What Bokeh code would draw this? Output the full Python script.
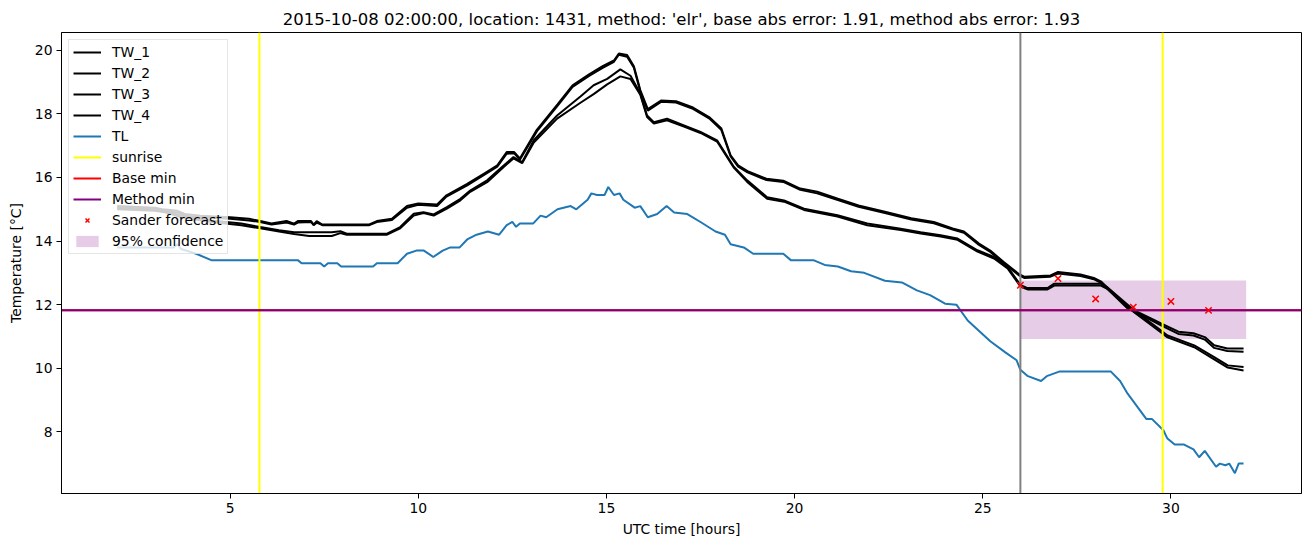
from bokeh.plotting import figure
from bokeh.models import Range1d, FixedTicker, Legend, LegendItem
from bokeh.embed import file_html
from bokeh.resources import INLINE

# ---------------- data ----------------
title_text = "2015-10-08 02:00:00, location: 1431, method: 'elr', base abs error: 1.91, method abs error: 1.93"

tw1_hours = [2.0, 3.0, 3.2, 3.6, 3.8, 4.2, 5.0, 5.5, 5.8, 6.1, 6.5, 6.7, 6.8, 7.15, 7.22, 7.3, 7.45, 8.7, 8.9, 9.3, 9.7, 10.0, 10.5, 10.75, 11.3, 11.75, 12.1, 12.35, 12.55, 12.7, 13.15, 13.7, 14.1, 14.55, 14.9, 15.2, 15.33, 15.55, 15.73, 15.9, 16.1, 16.45, 16.85, 17.3, 17.75, 18.05, 18.3, 18.5, 18.75, 19.25, 19.7, 20.15, 20.6, 21.15, 21.7, 22.4, 23.1, 23.7, 24.2, 24.5, 24.9, 25.2, 25.55, 25.95, 26.1, 26.8, 27.0, 27.6, 27.95, 28.15, 28.85, 29.55, 29.75, 30.2, 30.6, 30.9, 31.15, 31.5, 31.93]
tw1_temp = [15.1, 15.05, 15.0, 14.95, 14.85, 14.8, 14.75, 14.7, 14.63, 14.55, 14.63, 14.55, 14.63, 14.63, 14.52, 14.63, 14.52, 14.52, 14.63, 14.7, 15.1, 15.18, 15.15, 15.44, 15.8, 16.12, 16.38, 16.8, 16.8, 16.6, 17.5, 18.3, 18.9, 19.25, 19.5, 19.68, 19.9, 19.85, 19.5, 18.75, 18.15, 18.42, 18.4, 18.2, 17.88, 17.55, 16.7, 16.38, 16.2, 15.96, 15.9, 15.65, 15.55, 15.33, 15.12, 14.92, 14.72, 14.6, 14.4, 14.3, 13.92, 13.7, 13.35, 12.97, 12.88, 12.92, 13.03, 12.95, 12.84, 12.72, 11.92, 11.52, 11.4, 11.15, 11.1, 10.98, 10.72, 10.62, 10.62]

tw2_hours = [2.0, 3.0, 3.2, 3.6, 3.8, 4.2, 5.0, 5.5, 5.8, 6.1, 6.5, 6.7, 6.8, 7.15, 7.22, 7.3, 7.45, 8.7, 8.9, 9.3, 9.7, 10.0, 10.5, 10.75, 11.3, 11.75, 12.1, 12.35, 12.55, 12.7, 13.15, 13.7, 14.1, 14.55, 14.9, 15.2, 15.33, 15.55, 15.73, 15.9, 16.1, 16.45, 16.85, 17.3, 17.75, 18.05, 18.3, 18.5, 18.75, 19.25, 19.7, 20.15, 20.6, 21.15, 21.7, 22.4, 23.1, 23.7, 24.2, 24.5, 24.9, 25.2, 25.55, 25.95, 26.1, 26.8, 27.0, 27.6, 27.95, 28.15, 28.85, 29.55, 29.75, 30.2, 30.6, 30.9, 31.15, 31.5, 31.93]
tw2_temp = [15.05, 15.0, 14.95, 14.9, 14.8, 14.75, 14.7, 14.65, 14.6, 14.52, 14.58, 14.52, 14.58, 14.6, 14.5, 14.58, 14.5, 14.5, 14.6, 14.66, 15.05, 15.14, 15.1, 15.4, 15.75, 16.08, 16.34, 16.75, 16.76, 16.56, 17.45, 18.25, 18.85, 19.2, 19.45, 19.64, 19.86, 19.8, 19.45, 18.7, 18.1, 18.38, 18.36, 18.16, 17.84, 17.5, 16.66, 16.34, 16.16, 15.92, 15.86, 15.61, 15.5, 15.29, 15.08, 14.88, 14.68, 14.56, 14.36, 14.26, 13.88, 13.66, 13.31, 12.93, 12.84, 12.88, 12.98, 12.9, 12.8, 12.68, 11.88, 11.47, 11.34, 11.08, 11.03, 10.9, 10.64, 10.54, 10.52]

tw3_hours = [2.0, 3.0, 3.3, 3.7, 4.5, 5.3, 5.8, 6.3, 6.7, 7.1, 7.7, 7.93, 8.1, 9.17, 9.52, 9.88, 10.14, 10.41, 10.76, 11.12, 11.38, 11.83, 12.27, 12.53, 12.76, 13.07, 13.69, 14.31, 14.66, 15.02, 15.37, 15.64, 15.9, 16.08, 16.26, 16.61, 17.06, 17.5, 17.94, 18.39, 18.74, 19.27, 19.72, 20.25, 21.14, 21.93, 22.82, 23.35, 23.88, 24.33, 24.86, 25.3, 25.66, 26.01, 26.19, 26.72, 26.9, 28.14, 28.31, 29.02, 29.73, 29.91, 30.62, 31.15, 31.51, 31.93]
tw3_temp = [15.05, 15.0, 14.95, 14.8, 14.65, 14.55, 14.44, 14.34, 14.28, 14.28, 14.28, 14.31, 14.23, 14.23, 14.44, 14.86, 14.91, 14.84, 15.07, 15.33, 15.59, 15.91, 16.38, 16.64, 16.48, 17.17, 17.95, 18.55, 18.9, 19.1, 19.4, 19.2, 18.64, 17.95, 17.74, 17.85, 17.64, 17.43, 17.17, 16.33, 15.91, 15.38, 15.28, 15.02, 14.81, 14.55, 14.39, 14.28, 14.18, 14.08, 13.71, 13.5, 13.18, 12.61, 12.52, 12.52, 12.66, 12.66, 12.55, 11.82, 11.19, 11.03, 10.72, 10.35, 10.09, 10.04]

tw4_hours = [2.0, 3.0, 3.3, 3.7, 4.5, 5.3, 5.8, 6.3, 6.7, 7.1, 7.7, 7.93, 8.1, 9.17, 9.52, 9.88, 10.14, 10.41, 10.76, 11.12, 11.38, 11.83, 12.27, 12.53, 12.76, 13.07, 13.69, 14.31, 14.66, 15.02, 15.37, 15.64, 15.9, 16.08, 16.26, 16.61, 17.06, 17.5, 17.94, 18.39, 18.74, 19.27, 19.72, 20.25, 21.14, 21.93, 22.82, 23.35, 23.88, 24.33, 24.86, 25.3, 25.66, 26.01, 26.19, 26.72, 26.9, 28.14, 28.31, 29.02, 29.73, 29.91, 30.62, 31.15, 31.51, 31.93]
tw4_temp = [15.0, 14.95, 14.9, 14.75, 14.6, 14.5, 14.4, 14.3, 14.22, 14.16, 14.16, 14.25, 14.2, 14.2, 14.4, 14.8, 14.88, 14.8, 15.02, 15.28, 15.55, 15.85, 16.33, 16.6, 16.45, 17.1, 17.85, 18.35, 18.62, 18.93, 19.18, 19.1, 18.6, 17.9, 17.7, 17.8, 17.6, 17.4, 17.13, 16.3, 15.86, 15.33, 15.24, 14.98, 14.77, 14.5, 14.35, 14.24, 14.14, 14.04, 13.67, 13.45, 13.14, 12.56, 12.48, 12.48, 12.6, 12.6, 12.5, 11.76, 11.13, 10.97, 10.66, 10.28, 10.02, 9.93]

tl_hours = [2.0, 3.0, 3.5, 3.6, 3.7, 4.1, 4.5, 6.8, 6.9, 7.4, 7.5, 7.6, 7.85, 7.95, 8.8, 8.9, 9.45, 9.7, 9.95, 10.15, 10.4, 10.65, 10.85, 11.1, 11.3, 11.55, 11.85, 12.15, 12.35, 12.5, 12.6, 12.7, 13.05, 13.25, 13.4, 13.7, 14.05, 14.2, 14.5, 14.6, 14.75, 14.95, 15.05, 15.2, 15.35, 15.45, 15.75, 15.9, 16.1, 16.35, 16.6, 16.8, 17.15, 17.5, 17.9, 18.15, 18.3, 18.65, 18.9, 19.7, 19.9, 20.5, 20.8, 21.15, 21.5, 21.85, 22.4, 22.85, 23.25, 23.6, 24.0, 24.3, 24.6, 25.2, 25.6, 25.9, 26.0, 26.2, 26.55, 26.7, 27.05, 28.4, 28.65, 28.85, 29.1, 29.35, 29.5, 29.8, 29.9, 30.1, 30.35, 30.6, 30.75, 30.9, 31.2, 31.3, 31.45, 31.55, 31.7, 31.8, 31.93]
tl_temp = [13.8, 13.8, 13.8, 13.9, 13.75, 13.6, 13.4, 13.4, 13.3, 13.3, 13.2, 13.3, 13.3, 13.2, 13.2, 13.3, 13.3, 13.6, 13.7, 13.7, 13.5, 13.7, 13.8, 13.8, 14.05, 14.2, 14.3, 14.2, 14.5, 14.6, 14.45, 14.55, 14.55, 14.8, 14.75, 15.0, 15.1, 15.0, 15.3, 15.5, 15.45, 15.45, 15.7, 15.45, 15.5, 15.3, 15.05, 15.1, 14.75, 14.85, 15.1, 14.9, 14.85, 14.6, 14.3, 14.2, 13.9, 13.8, 13.6, 13.6, 13.4, 13.4, 13.25, 13.2, 13.05, 13.0, 12.75, 12.7, 12.45, 12.3, 12.03, 12.0, 11.5, 10.85, 10.5, 10.25, 9.95, 9.75, 9.6, 9.75, 9.9, 9.9, 9.6, 9.2, 8.8, 8.4, 8.4, 8.05, 7.8, 7.6, 7.6, 7.45, 7.2, 7.4, 6.9, 7.0, 6.95, 7.0, 6.7, 7.0, 7.0]

sunrise_hours = [5.78, 29.78]
forecast_issue_hour = [26.0]
base_min = [11.82]
method_min = [11.82]
forecast_hours = [26, 27, 28, 29, 30, 31]
forecast_temp = [12.61, 12.82, 12.18, 11.92, 12.10, 11.82]
conf_start = [26.0]
conf_end = [32.0]
conf_low = [10.92]
conf_high = [12.76]

x_ticks = [5, 10, 15, 20, 25, 30]
y_ticks = [8, 10, 12, 14, 16, 18, 20]
X_LIM = (0.52, 33.47)
Y_LIM = (6.06, 20.56)

FONT = "DejaVu Sans"

# ---------------- figure ----------------
p = figure(width=1311, height=547, output_backend="svg", toolbar_location=None,
           x_range=Range1d(*X_LIM), y_range=Range1d(*Y_LIM),
           min_border_left=61, min_border_right=10, min_border_top=32, min_border_bottom=54)

p.title.text = title_text
p.title.align = "center"
p.title.text_font = FONT
p.title.text_font_size = "16.5px"
p.title.text_font_style = "normal"
p.title.text_color = "black"
p.title.standoff = 8

p.xgrid.visible = False
p.ygrid.visible = False
p.outline_line_color = "black"
p.outline_line_width = 1
p.outline_line_alpha = 1

for ax, ticks in ((p.xaxis[0], x_ticks), (p.yaxis[0], y_ticks)):
    ax.ticker = FixedTicker(ticks=ticks)
    ax.major_tick_out = 5
    ax.major_tick_in = 0
    ax.minor_tick_out = 0
    ax.minor_tick_in = 0
    ax.axis_line_color = "black"
    ax.major_tick_line_color = "black"
    ax.major_label_text_font = FONT
    ax.major_label_text_font_size = "13.9px"
    ax.major_label_text_color = "black"
    ax.axis_label_text_font = FONT
    ax.axis_label_text_font_size = "13.9px"
    ax.axis_label_text_font_style = "normal"
    ax.axis_label_text_color = "black"
    ax.major_label_standoff = 4

p.xaxis.axis_label = "UTC time [hours]"
p.yaxis.axis_label = "Temperature [°C]"
p.xaxis.axis_label_standoff = 5
p.yaxis.axis_label_standoff = 8

# confidence band (beneath lines)
r_conf = p.quad(left=conf_start, right=conf_end, bottom=conf_low, top=conf_high,
                fill_color="purple", fill_alpha=0.2, line_color=None)

lw = 2.0
r_tw1 = p.line(tw1_hours, tw1_temp, line_color="black", line_width=lw)
r_tw2 = p.line(tw2_hours, tw2_temp, line_color="black", line_width=lw)
r_tw3 = p.line(tw3_hours, tw3_temp, line_color="black", line_width=lw)
r_tw4 = p.line(tw4_hours, tw4_temp, line_color="black", line_width=lw)
r_tl = p.line(tl_hours, tl_temp, line_color="#1f77b4", line_width=lw)

r_sun = p.segment(x0=sunrise_hours, x1=sunrise_hours,
                  y0=[Y_LIM[0]] * len(sunrise_hours), y1=[Y_LIM[1]] * len(sunrise_hours),
                  line_color="yellow", line_width=lw)
r_issue = p.segment(x0=forecast_issue_hour, x1=forecast_issue_hour,
                    y0=[Y_LIM[0]], y1=[Y_LIM[1]], line_color="gray", line_width=lw)
r_base = p.segment(x0=[X_LIM[0]], x1=[X_LIM[1]], y0=base_min, y1=base_min,
                   line_color="red", line_width=lw)
r_meth = p.segment(x0=[X_LIM[0]], x1=[X_LIM[1]], y0=method_min, y1=method_min,
                   line_color="purple", line_width=lw)
r_fc = p.scatter(forecast_hours, forecast_temp, marker="x", size=9,
                 line_color="red", line_width=1.5)

legend = Legend(items=[
    LegendItem(label="TW_1", renderers=[r_tw1]),
    LegendItem(label="TW_2", renderers=[r_tw2]),
    LegendItem(label="TW_3", renderers=[r_tw3]),
    LegendItem(label="TW_4", renderers=[r_tw4]),
    LegendItem(label="TL", renderers=[r_tl]),
    LegendItem(label="sunrise", renderers=[r_sun]),
    LegendItem(label="Base min", renderers=[r_base]),
    LegendItem(label="Method min", renderers=[r_meth]),
    LegendItem(label="Sander forecast", renderers=[r_fc]),
    LegendItem(label="95% confidence", renderers=[r_conf]),
], location="top_left")
legend.margin = 7
legend.padding = 4
legend.spacing = 5
legend.glyph_width = 28
legend.glyph_height = 14
legend.label_height = 14
legend.label_standoff = 11
legend.label_text_font = FONT
legend.label_text_font_size = "13.9px"
legend.label_text_color = "black"
legend.border_line_color = "#cccccc"
legend.border_line_width = 1
legend.background_fill_color = "white"
legend.background_fill_alpha = 0.8
p.add_layout(legend, "center")

open("out.html", "w").write(file_html(p, INLINE))
